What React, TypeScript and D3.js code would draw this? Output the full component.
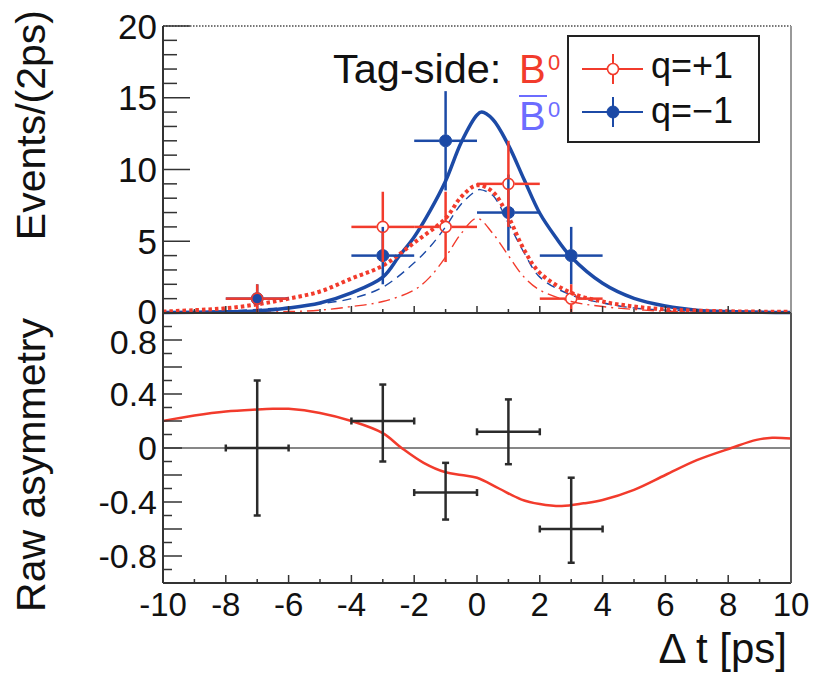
import React from 'react';
import * as d3 from 'd3';

// ---------- data ----------
const binCenters = [-7, -3, -1, 1, 3];
const binHalfWidth = 1;
const qPlusCounts = [1, 6, 6, 9, 1];
const qPlusErr = [1, 2.45, 2.45, 3, 1];
const qMinusCounts = [1, 4, 12, 7, 4];
const qMinusErr = [1, 2, 3.46, 2.65, 2];

const asymCenters = [-7, -3, -1, 1, 3];
const asymValues = [0, 0.2, -0.33, 0.12, -0.6];
const asymErrHigh = [0.5, 0.27, 0.22, 0.24, 0.38];
const asymErrLow = [0.5, 0.3, 0.2, 0.24, 0.25];

const blueSolidX = [-10, -8, -7, -6, -5, -4, -3, -2.5, -2, -1.5, -1, -0.5, 0, 0.15, 0.5, 1, 1.5, 2, 2.5, 3, 4, 5, 6, 7, 8, 10];
const blueSolidY = [0.03, 0.08, 0.15, 0.35, 0.7, 1.4, 2.5, 3.9, 5.3, 7.1, 9.2, 11.9, 13.8, 14.0, 13.5, 11.7, 9.3, 6.95, 5.3, 3.9, 2.07, 1.02, 0.49, 0.2, 0.1, 0.04];

const redDottedX = [-10, -9, -8, -7, -6, -5, -4, -3, -2, -1, -0.5, 0, 0.5, 1, 1.5, 2, 3, 4, 5, 6, 8, 10];
const redDottedY = [0.1, 0.2, 0.33, 0.6, 1.0, 1.5, 2.4, 3.3, 4.9, 6.6, 8.1, 8.9, 8.45, 6.7, 4.4, 2.8, 1.4, 0.8, 0.45, 0.25, 0.12, 0.08];

const blueDashedX = [-10, -8, -7, -6, -5, -4, -3, -2, -1.5, -1, -0.5, 0, 0.1, 0.5, 1, 1.5, 2, 3, 4, 5, 6, 8, 10];
const blueDashedY = [0.05, 0.15, 0.25, 0.4, 0.65, 1.0, 1.8, 3.5, 4.6, 6.0, 7.6, 8.55, 8.6, 8.2, 6.25, 4.2, 2.5, 1.25, 0.7, 0.35, 0.2, 0.08, 0.03];

const redDashDotX = [-10, -8, -6, -5, -4, -3, -2, -1.5, -1, -0.5, 0, 0.5, 1, 1.5, 2, 3, 4, 5, 6, 8, 10];
const redDashDotY = [0.02, 0.05, 0.1, 0.2, 0.45, 0.8, 1.6, 2.5, 3.9, 5.55, 6.6, 5.55, 4.0, 2.5, 1.6, 0.8, 0.45, 0.25, 0.12, 0.05, 0.02];

const asymCurveX = [-10, -9, -8, -7, -6.5, -6, -5, -4, -3, -2.4, -1.7, -1, -0.5, 0, 0.7, 1.4, 2, 2.7, 3.4, 4, 5, 6, 7, 8.1, 8.9, 9.4, 10];
const asymCurveY = [0.2, 0.24, 0.27, 0.285, 0.29, 0.29, 0.26, 0.2, 0.11, 0.0, -0.11, -0.18, -0.2, -0.22, -0.3, -0.38, -0.415, -0.43, -0.41, -0.385, -0.31, -0.2, -0.09, 0.0, 0.06, 0.076, 0.07];

const xTickLabels = ['-10', '-8', '-6', '-4', '-2', '0', '2', '4', '6', '8', '10'];
const xTickValues = [-10, -8, -6, -4, -2, 0, 2, 4, 6, 8, 10];
const topYTickValues = [0, 5, 10, 15, 20];
const botYTickValues = [0.8, 0.4, 0, -0.4, -0.8];
const botYTickLabels = ['0.8', '0.4', '0', '-0.4', '-0.8'];

// ---------- layout ----------
const W = 824;
const H = 676;
const L = 163;
const R = 791;
const TOP = 26;
const MID = 313;
const BOT = 583;

const RED = '#f23b2c';
const BLUE = '#1c4aa6';
const LIGHTBLUE = '#6c6cff';
const AX = '#333333';
const FONT = "'Liberation Sans', Arial, Helvetica, sans-serif";

const x = d3.scaleLinear().domain([-10, 10]).range([L, R]);
const yTop = d3.scaleLinear().domain([0, 20]).range([MID, TOP]);
const yBot = d3.scaleLinear().domain([-1, 1]).range([BOT, MID]);

function curvePath(xs: number[], ys: number[], yScale: d3.ScaleLinear<number, number>) {
  const pts = xs.map((v, i) => [v, ys[i]] as [number, number]);
  return d3
    .line<[number, number]>()
    .x((d) => x(d[0]))
    .y((d) => yScale(d[1]))
    .curve(d3.curveCatmullRom.alpha(0.5))(pts) as string;
}

function DataPoints({ counts, errs, color, filled }: { counts: number[]; errs: number[]; color: string; filled: boolean }) {
  const r = 6;
  return (
    <g>
      {binCenters.map((c, i) => {
        const cx = x(c);
        const cy = yTop(counts[i]);
        const x0 = x(c - binHalfWidth);
        const x1 = x(c + binHalfWidth);
        const yHi = yTop(counts[i] + errs[i]);
        const yLo = yTop(Math.max(0, counts[i] - errs[i]));
        return (
          <g key={i} stroke={color} strokeWidth={2.5}>
            <line x1={x0} y1={cy} x2={cx - r} y2={cy} />
            <line x1={cx + r} y1={cy} x2={x1} y2={cy} />
            <line x1={cx} y1={yHi} x2={cx} y2={cy - r} />
            <line x1={cx} y1={cy + r} x2={cx} y2={yLo} />
            <circle cx={cx} cy={cy} r={filled ? r : r - 0.5} fill={filled ? color : 'none'} strokeWidth={filled ? 1 : 1.6} />
          </g>
        );
      })}
    </g>
  );
}

export default function App() {
  const topYMinor = d3.range(0, 21, 1);
  const botYMinor = d3.range(-10, 11, 1);
  const xMinor = d3.range(-9, 10, 1);

  return (
    <svg width={W} height={H} viewBox={`0 0 ${W} ${H}`} style={{ display: 'block', position: 'absolute', left: 0, top: 0, background: '#fff' }} fontFamily={FONT}>
      <rect x={0} y={0} width={W} height={H} fill="#fff" />

      {/* ---------- top panel curves ---------- */}
      <path d={curvePath(blueDashedX, blueDashedY, yTop)} fill="none" stroke={BLUE} strokeWidth={1.4} strokeDasharray="9,6" />
      <path d={curvePath(redDashDotX, redDashDotY, yTop)} fill="none" stroke={RED} strokeWidth={1.4} strokeDasharray="12,5,2,5" />
      <path d={curvePath(blueSolidX, blueSolidY, yTop)} fill="none" stroke={BLUE} strokeWidth={3.5} />
      <path d={curvePath(redDottedX, redDottedY, yTop)} fill="none" stroke={RED} strokeWidth={4} strokeDasharray="3.5,3" />

      <DataPoints counts={qMinusCounts} errs={qMinusErr} color={BLUE} filled={true} />
      <DataPoints counts={qPlusCounts} errs={qPlusErr} color={RED} filled={false} />

      {/* ---------- top panel frame ---------- */}
      <line x1={L} y1={TOP} x2={R} y2={TOP} stroke="#777" strokeWidth={2} strokeDasharray="1.5,1.5" />
      <line x1={R} y1={TOP} x2={R} y2={MID} stroke="#999" strokeWidth={2} />
      <line x1={L} y1={TOP} x2={L} y2={MID} stroke={AX} strokeWidth={2} />
      {topYMinor.map((v) => (
        <line key={'ty' + v} x1={L} x2={L + (v % 5 === 0 ? 27 : 14)} y1={yTop(v)} y2={yTop(v)} stroke={AX} strokeWidth={1.5} />
      ))}
      {xMinor.map((v) => (
        <line key={'tx' + v} x1={x(v)} x2={x(v)} y1={MID} y2={MID - (v % 2 === 0 ? 7 : 4)} stroke={AX} strokeWidth={1.5} />
      ))}
      {topYTickValues.map((v) => (
        <text key={'tl' + v} x={157} y={yTop(v) - (v === 0 ? 2 : 0)} dy="0.36em" textAnchor="end" fontSize={35} fill="#111">
          {String(v)}
        </text>
      ))}

      {/* ---------- bottom panel ---------- */}
      <line x1={L} y1={yBot(0)} x2={R} y2={yBot(0)} stroke="#111" strokeWidth={1.2} />
      <path d={curvePath(asymCurveX, asymCurveY, yBot)} fill="none" stroke={RED} strokeWidth={2.5} />
      {asymCenters.map((c, i) => {
        const cx = x(c);
        const cy = yBot(asymValues[i]);
        const x0 = x(c - binHalfWidth);
        const x1 = x(c + binHalfWidth);
        const yHi = yBot(asymValues[i] + asymErrHigh[i]);
        const yLo = yBot(asymValues[i] - asymErrLow[i]);
        const cap = 3.5;
        return (
          <g key={'a' + i} stroke="#2b2b2b" strokeWidth={2.5}>
            <line x1={x0} y1={cy} x2={x1} y2={cy} />
            <line x1={cx} y1={yHi} x2={cx} y2={yLo} />
            <line x1={x0} y1={cy - cap} x2={x0} y2={cy + cap} />
            <line x1={x1} y1={cy - cap} x2={x1} y2={cy + cap} />
            <line x1={cx - cap} y1={yHi} x2={cx + cap} y2={yHi} />
            <line x1={cx - cap} y1={yLo} x2={cx + cap} y2={yLo} />
          </g>
        );
      })}

      <line x1={L} y1={MID} x2={R} y2={MID} stroke={AX} strokeWidth={2} />
      <line x1={L} y1={MID} x2={L} y2={BOT} stroke={AX} strokeWidth={2} />
      <line x1={L} y1={BOT} x2={R} y2={BOT} stroke={AX} strokeWidth={2} />
      <line x1={R} y1={MID} x2={R} y2={BOT} stroke="#555" strokeWidth={2} />
      {botYMinor.map((k) => (
        <line key={'by' + k} x1={L} x2={L + (k % 2 === 0 ? 19 : 9)} y1={yBot(k / 10)} y2={yBot(k / 10)} stroke={AX} strokeWidth={1.5} />
      ))}
      {xMinor.map((v) => (
        <line key={'bx' + v} x1={x(v)} x2={x(v)} y1={BOT} y2={BOT - (v % 2 === 0 ? 8 : 4)} stroke={AX} strokeWidth={1.5} />
      ))}
      {botYTickValues.map((v, i) => (
        <text key={'bl' + i} x={157} y={yBot(v) + (v === 0.8 ? 2 : 0)} dy="0.36em" textAnchor="end" fontSize={34} fill="#111">
          {botYTickLabels[i]}
        </text>
      ))}
      {xTickValues.map((v, i) => (
        <text key={'xl' + i} x={x(v)} y={616} textAnchor="middle" fontSize={33} fill="#111">
          {xTickLabels[i]}
        </text>
      ))}

      {/* ---------- titles ---------- */}
      <text x={787} y={663} textAnchor="end" fontSize={42} fill="#111">Δ t [ps]</text>
      <text transform="translate(45,10) rotate(-90)" textAnchor="end" fontSize={41} fill="#111">Events/(2ps)</text>
      <text transform="translate(45,318) rotate(-90)" textAnchor="end" fontSize={41} fill="#111">Raw asymmetry</text>

      {/* ---------- Tag-side annotation ---------- */}
      <text x={333} y={83} fontSize={41.5} fill="#111">Tag-side:</text>
      <text x={519} y={83} fontSize={40} fill={RED}>B</text>
      <text x={548} y={70} fontSize={22} fill={RED}>0</text>
      <text x={519} y={130} fontSize={40} fill={LIGHTBLUE}>B</text>
      <line x1={519} x2={547} y1={96} y2={96} stroke={LIGHTBLUE} strokeWidth={2} />
      <text x={548} y={117} fontSize={22} fill={LIGHTBLUE}>0</text>

      {/* ---------- legend ---------- */}
      <rect x={568} y={36} width={191} height={106} fill="#fff" stroke="#222" strokeWidth={2} />
      <g stroke={RED} strokeWidth={2}>
        <line x1={582} x2={607} y1={69} y2={69} />
        <line x1={619} x2={643} y1={69} y2={69} />
        <line x1={613} x2={613} y1={54} y2={63} />
        <line x1={613} x2={613} y1={75} y2={84} />
        <circle cx={613} cy={69} r={5.5} fill="#fff" strokeWidth={1.6} />
      </g>
      <g stroke={BLUE} strokeWidth={2}>
        <line x1={582} x2={643} y1={112} y2={112} />
        <line x1={613} x2={613} y1={97} y2={127} />
        <circle cx={613} cy={112} r={6} fill={BLUE} strokeWidth={1} />
      </g>
      <text x={651} y={78} fontSize={36} fill="#111">q=+1</text>
      <text x={651} y={123} fontSize={36} fill="#111">q=−1</text>
    </svg>
  );
}
